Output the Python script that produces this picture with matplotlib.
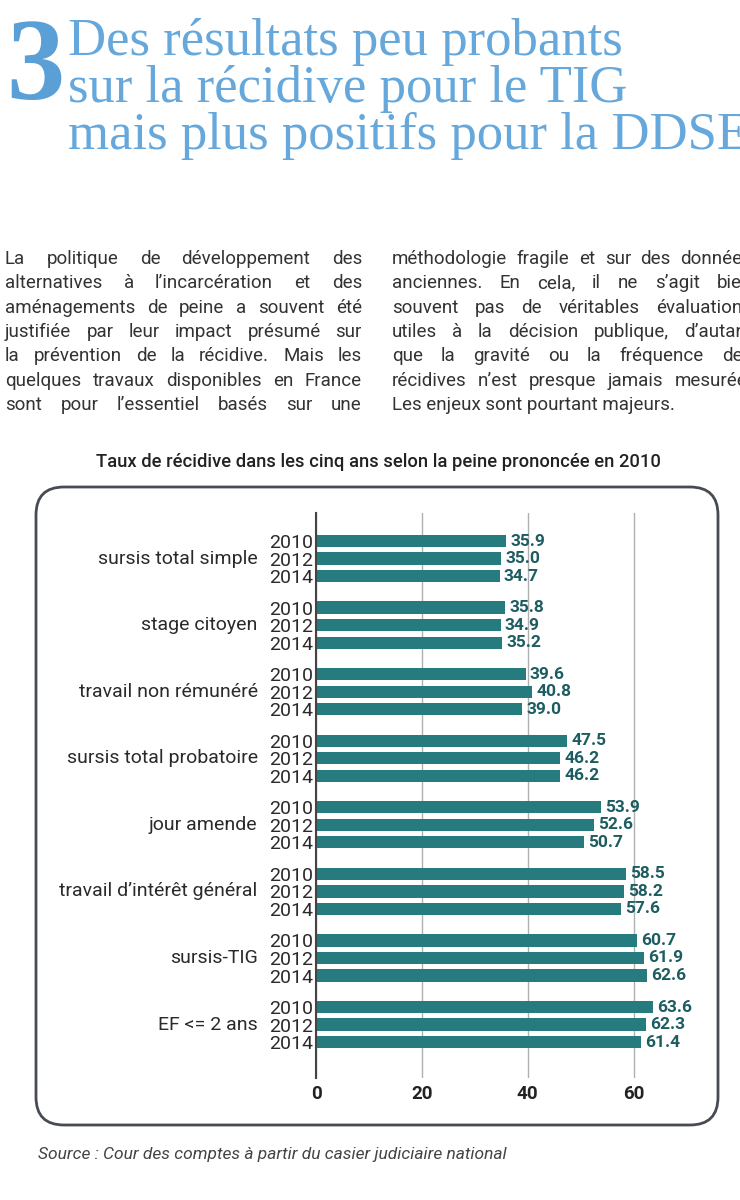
import matplotlib
matplotlib.use("Agg")
import matplotlib.pyplot as plt
from matplotlib.patches import FancyBboxPatch
import numpy as np

# data
categories = ["sursis total simple", "stage citoyen", "travail non rémunéré",
              "sursis total probatoire", "jour amende", "travail d\u2019intérêt général",
              "sursis-TIG", "EF <= 2 ans"]
years = ["2010", "2012", "2014"]
rates = [[35.9, 35.0, 34.7],
         [35.8, 34.9, 35.2],
         [39.6, 40.8, 39.0],
         [47.5, 46.2, 46.2],
         [53.9, 52.6, 50.7],
         [58.5, 58.2, 57.6],
         [60.7, 61.9, 62.6],
         [63.6, 62.3, 61.4]]
xticks = [0, 20, 40, 60]

title_lines = ["Des résultats peu probants",
               "sur la récidive pour le TIG",
               "mais plus positifs pour la DDSE"]
left_col = ["La politique de développement des",
            "alternatives à l\u2019incarcération et des",
            "aménagements de peine a souvent été",
            "justifiée par leur impact présumé sur",
            "la prévention de la récidive. Mais les",
            "quelques travaux disponibles en France",
            "sont pour l\u2019essentiel basés sur une"]
right_col = ["méthodologie fragile et sur des données",
             "anciennes. En cela, il ne s\u2019agit bien",
             "souvent pas de véritables évaluations",
             "utiles à la décision publique, d\u2019autant",
             "que la gravité ou la fréquence des",
             "récidives n\u2019est presque jamais mesurée.",
             "Les enjeux sont pourtant majeurs."]
chart_title = "Taux de récidive dans les cinq ans selon la peine prononcée en 2010"
source = "Source : Cour des comptes à partir du casier judiciaire national"

BAR = "#267b7f"
VAL = "#1d5d61"
BLUE = "#66a8db"
W, H = 740, 1200

plt.rcParams['font.family'] = ['Roboto', 'DejaVu Sans']
fig = plt.figure(figsize=(W / 100, H / 100), dpi=100)
fig.patch.set_facecolor("white")


def px(x, y):
    # pixel (from top-left) -> figure fraction
    return x / W, 1 - y / H


# header
fig.text(*px(6, 99), "3", fontsize=84, fontweight="bold", color="#5a9fd6",
         family="Liberation Serif", va="baseline", ha="left")
for i, line in enumerate(title_lines):
    fig.text(*px(68, 55 + i * 47), line, fontsize=38, color=BLUE,
             family="Liberation Serif", va="baseline", ha="left")

# body text, justified columns
renderer = fig.canvas.get_renderer()
BODY = 13.5


def justify(lines, x0, x1, y0, dy, last_left=False):
    for i, line in enumerate(lines):
        y = y0 + i * dy
        words = line.split(" ")
        if last_left and i == len(lines) - 1:
            fig.text(*px(x0, y), line, fontsize=BODY, color="#333333", va="baseline")
            continue
        txts = [fig.text(0, 1 - y / H, w, fontsize=BODY, color="#333333", va="baseline")
                for w in words]
        widths = [t.get_window_extent(renderer).width for t in txts]
        gap = (x1 - x0 - sum(widths)) / max(len(words) - 1, 1)
        x = x0
        for t, wd in zip(txts, widths):
            t.set_x(x / W)
            x += wd + gap


justify(left_col, 5, 362, 264, 24.3)
justify(right_col, 392, 752, 264, 24.3, last_left=True)

# chart title
fig.text(*px(378, 462), chart_title, fontsize=13.2, fontweight="medium",
         color="#222222", ha="center", va="center")

# rounded frame
box = FancyBboxPatch((0.36, 0.75), 6.82, 6.38, boxstyle="round,pad=0,rounding_size=0.28",
                     transform=fig.dpi_scale_trans, facecolor="none",
                     edgecolor="#474b52", linewidth=2)
fig.patches.append(box)

# bars
ax = fig.add_axes([316 / W, 1 - 1078 / H, 381 / W, (1078 - 513) / H])
gstep = 3.8
ypos, vals, ylabels = [], [], []
for gi, grp in enumerate(rates):
    for j, v in enumerate(grp):
        ypos.append(gi * gstep + j)
        vals.append(v)
        ylabels.append(years[j])
ax.barh(ypos, vals, height=0.7, color=BAR, zorder=2)
for y, v in zip(ypos, vals):
    ax.annotate(f"{v:.1f}", xy=(v, y), xytext=(3, 0), textcoords="offset points",
                ha="left", va="center", fontsize=12.5, fontweight="bold", color=VAL, zorder=3)
for gi, cat in enumerate(categories):
    ax.annotate(cat, xy=(0, gi * gstep + 1), xycoords=ax.get_yaxis_transform(),
                xytext=(-42, 0), textcoords="offset points", ha="right", va="center",
                fontsize=14, color="#2a2a2a")

ax.set_yticks(ypos)
ax.set_yticklabels(ylabels, fontsize=14, color="#2a2a2a")
ax.set_ylim(7 * gstep + 2 + 2.05, -1.6)
ax.set_xlim(0, 72)
ax.set_xticks(xticks)
ax.set_xticklabels([str(t) for t in xticks], fontsize=13.5, fontweight="bold", color="#222222")
ax.tick_params(axis="both", length=0)
ax.tick_params(axis="y", pad=2)
ax.tick_params(axis="x", pad=5)
ax.grid(axis="x", color="#b0b0b0", linewidth=1, zorder=0)
ax.set_axisbelow(True)
for s in ["top", "right", "bottom"]:
    ax.spines[s].set_visible(False)
ax.spines["left"].set_color("#444444")
ax.spines["left"].set_linewidth(1.5)
ax.set_facecolor("none")

# source
fig.text(*px(38, 1154), source, fontsize=12.5, style="italic", color="#444444",
         ha="left", va="center")

fig.savefig("out.png", dpi=100)
